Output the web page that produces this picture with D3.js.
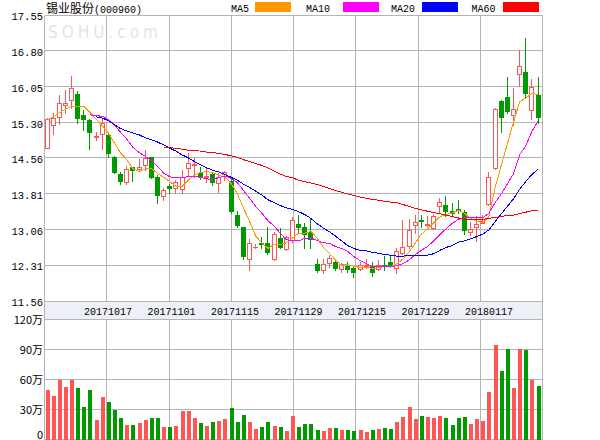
<!DOCTYPE html>
<html><head><meta charset="utf-8">
<script src="https://cdn.jsdelivr.net/npm/d3@7"></script>
<style>body{margin:0;background:#fff}svg{display:block}</style>
</head><body><svg id="c" width="600" height="440"></svg>
<script>
// ---- data ----
const title = "锡业股份";
const code = "(000960)";
const open = [14.77,15.25,15.41,15.67,15.78,15.90,15.46,15.35,14.99,15.06,
15.04,14.57,14.21,14.06,14.36,14.32,14.40,14.57,14.15,13.76,
13.97,13.92,13.90,14.34,14.40,14.25,14.15,14.21,14.04,14.21,
14.08,13.36,13.10,12.43,12.69,12.78,12.77,12.43,12.87,12.64,
12.84,13.17,13.12,13.01,12.34,12.20,12.35,12.38,12.22,12.29,
12.25,12.22,12.29,12.29,12.22,12.31,12.38,12.25,12.57,12.71,
13.15,13.26,13.15,13.08,13.55,13.57,13.45,13.48,13.43,13.00,
13.12,13.20,13.59,14.34,15.75,15.83,15.46,16.31,16.35,15.56,15.88];
const close = [15.37,15.39,15.70,15.71,16.02,15.39,15.37,15.09,15.01,15.28,
14.67,14.27,14.08,14.32,14.30,14.36,14.55,14.16,13.78,13.89,
13.93,14.05,14.16,14.44,14.42,14.15,14.18,14.05,14.16,14.26,
13.45,13.15,12.51,12.77,12.70,12.75,12.58,12.96,12.69,12.90,
13.26,13.12,12.96,12.85,12.20,12.34,12.46,12.25,12.33,12.22,
12.17,12.31,12.31,12.17,12.31,12.29,12.29,12.61,12.69,13.05,
13.22,13.23,13.18,13.34,13.64,13.45,13.41,13.46,13.05,13.07,
13.17,13.24,14.15,15.58,15.42,15.53,15.58,16.48,15.91,16.04,15.41];
const high = [15.39,15.49,15.88,15.97,16.27,15.96,15.56,15.37,15.11,15.39,
15.06,14.59,14.27,14.39,14.37,14.54,14.72,14.58,14.20,13.93,
14.01,14.09,14.30,14.67,14.55,14.37,14.36,14.25,14.24,14.29,
14.13,13.45,13.12,12.85,12.76,12.90,13.12,13.01,13.08,12.92,
13.31,13.36,13.19,13.29,12.44,12.44,12.52,12.44,12.35,12.38,
12.29,12.38,12.43,12.38,12.42,12.50,12.50,12.66,13.26,13.27,
13.36,13.36,13.33,13.38,13.71,13.76,13.61,13.68,13.47,13.22,
13.33,13.36,14.27,15.60,15.77,16.26,16.02,16.82,17.06,16.22,16.26];
const low = [14.76,15.06,15.27,15.49,15.60,15.28,15.14,14.74,14.93,14.74,
14.57,14.24,14.01,14.01,14.08,14.28,14.30,14.13,13.61,13.68,
13.82,13.82,13.82,14.18,14.16,14.12,14.06,13.99,13.85,14.09,
13.40,13.12,12.43,12.20,12.66,12.66,12.55,12.42,12.66,12.63,
12.80,13.01,12.66,12.66,12.17,12.14,12.28,12.21,12.17,12.17,
12.06,12.21,12.25,12.08,12.21,12.21,12.27,12.15,12.55,12.66,
12.99,13.12,13.14,13.06,13.43,13.33,13.33,13.41,12.96,12.94,
12.82,13.19,13.57,14.32,15.11,15.49,15.25,16.06,15.81,15.37,15.29];
const volume = [49.3,43.3,59.3,52.3,59.3,51.3,32.3,49.3,19.3,42.3,
37.3,29.3,21.3,14.3,14.3,16.3,19.3,21.3,21.3,12.3,
12.3,13.3,28.3,28.3,21.3,16.3,13.3,17.3,18.3,20.3,
31.3,17.3,24.3,17.3,10.3,12.3,17.3,13.3,12.3,8.3,
23.3,12.3,15.3,15.3,9.3,8.3,11.3,11.3,9.3,9.3,
8.3,9.3,7.3,9.3,10.3,11.3,10.3,17.3,22.3,32.3,
20.3,23.3,22.3,21.3,23.3,21.3,14.3,21.3,22.3,15.3,
20.3,18.3,47.3,94.3,68.3,90.3,51.3,90.3,89.3,59.3,53.3];
const ma5 = [15.35,15.41,15.50,15.58,15.64,15.64,15.64,15.51,15.37,15.23,
15.08,14.86,14.66,14.52,14.33,14.27,14.32,14.34,14.23,14.15,
14.06,13.96,13.96,14.09,14.20,14.25,14.27,14.25,14.19,14.16,
14.02,13.81,13.51,13.23,12.92,12.78,12.66,12.75,12.74,12.78,
12.88,12.98,12.98,13.02,12.88,12.69,12.56,12.42,12.31,12.32,
12.29,12.26,12.27,12.24,12.26,12.28,12.28,12.34,12.44,12.59,
12.77,12.96,13.07,13.20,13.32,13.37,13.40,13.46,13.40,13.29,
13.23,13.20,13.33,13.93,14.39,14.85,15.30,15.73,15.81,15.91,15.88];
const ma10 = [null,null,null,null,null,null,null,15.46,15.44,15.43,
15.36,15.25,15.09,14.95,14.78,14.67,14.59,14.50,14.38,14.24,
14.16,14.14,14.15,14.16,14.17,14.15,14.12,14.10,14.14,14.18,
14.13,14.04,13.88,13.71,13.54,13.40,13.24,13.13,12.98,12.84,
12.83,12.82,12.87,12.88,12.83,12.78,12.77,12.70,12.66,12.60,
12.49,12.41,12.34,12.28,12.29,12.28,12.27,12.30,12.34,12.42,
12.53,12.62,12.70,12.82,12.95,13.07,13.18,13.27,13.30,13.30,
13.30,13.30,13.40,13.62,13.80,14.01,14.22,14.62,14.81,15.11,15.33];
const ma20 = [null,null,null,null,null,null,null,null,15.42,15.39,
15.34,15.25,15.17,15.12,15.08,15.04,14.98,14.94,14.89,14.83,
14.76,14.70,14.62,14.56,14.48,14.41,14.35,14.30,14.26,14.21,
14.15,14.09,14.01,13.94,13.86,13.78,13.68,13.62,13.56,13.51,
13.48,13.43,13.37,13.29,13.18,13.09,13.01,12.92,12.82,12.72,
12.66,12.62,12.61,12.58,12.56,12.53,12.52,12.50,12.50,12.51,
12.51,12.51,12.52,12.55,12.62,12.68,12.72,12.79,12.82,12.86,
12.91,12.96,13.05,13.22,13.38,13.54,13.70,13.90,14.06,14.21,14.32];
const ma60 = [null,null,null,null,null,null,null,null,null,null,
null,null,null,null,null,null,null,null,null,14.78,
14.77,14.76,14.74,14.72,14.71,14.70,14.68,14.67,14.65,14.63,
14.60,14.57,14.52,14.48,14.44,14.40,14.35,14.28,14.22,14.17,
14.14,14.09,14.06,14.03,14.00,13.96,13.92,13.87,13.84,13.80,
13.77,13.74,13.71,13.69,13.67,13.65,13.63,13.62,13.58,13.54,
13.50,13.47,13.44,13.41,13.39,13.36,13.33,13.30,13.27,13.26,
13.26,13.27,13.29,13.31,13.33,13.35,13.36,13.39,13.42,13.45,13.46];
const priceTicks = ["17.55","16.80","16.05","15.30","14.56","13.81","13.06","12.31","11.56"];
const volTickValues = [120,90,60,30,0];
const volTickLabels = ["120万","90万","60万","30万","0"];
const dateLabels = ["20171017","20171101","20171115","20171129","20171215","20171229","20180117"];
const maNames = ["MA5","MA10","MA20","MA60"];

// ---- styles / layout ----
const RED = "#ff5555", GREEN = "#009900", GRID = "#b4b4b4";
const maColors = ["#ff9900","#ff00ff","#0000ff","#ff0000"];
const mono = "'Liberation Mono','DejaVu Sans Mono',monospace";
const cjk = "'Noto Sans CJK SC','Liberation Mono',sans-serif";

const svg = d3.select("#c");
const n = open.length;
const x = d3.scaleLinear().domain([0, n - 1]).range([47, 538]);
const y = d3.scaleLinear().domain([11.56, 17.55]).range([301, 15]);
const yv = d3.scaleLinear().domain([0, 120]).range([439.5, 319.5]);
const gx = d3.scaleLinear().domain([0, 8]).range([44.5, 542.5]);
const dxs = d3.scaleLinear().domain([0, dateLabels.length - 1]).range([108, 489]);
const crisp = v => Math.floor(v) + 0.5;
const L = gx(0), R = gx(8);

// watermark
svg.append("text").attr("x", 48).attr("y", 38)
  .attr("font-family", "'DejaVu Sans Condensed','Liberation Sans',sans-serif")
  .attr("font-size", 17).attr("letter-spacing", 4).attr("fill", "#e4e4e4")
  .text("SOHU.com");

// grid
const grid = svg.append("g").attr("stroke", GRID).attr("stroke-width", 1).attr("shape-rendering", "crispEdges");
priceTicks.forEach(t => {
  const yy = crisp(y(+t));
  grid.append("line").attr("x1", L).attr("x2", R).attr("y1", yy).attr("y2", yy);
});
volTickValues.forEach(v => {
  const yy = crisp(yv(v));
  grid.append("line").attr("x1", L).attr("x2", R).attr("y1", yy).attr("y2", yy);
});
d3.range(1, 8).forEach(k => {
  const xx = crisp(gx(k));
  grid.append("line").attr("x1", xx).attr("x2", xx).attr("y1", crisp(y(17.55))).attr("y2", crisp(y(11.56)));
  grid.append("line").attr("x1", xx).attr("x2", xx).attr("y1", crisp(yv(120))).attr("y2", crisp(yv(0)));
});
// date band
svg.append("rect").attr("x", crisp(L)).attr("y", crisp(y(11.56)))
  .attr("width", crisp(R) - crisp(L)).attr("height", crisp(yv(120)) - crisp(y(11.56)))
  .attr("fill", "#eef0f8").attr("stroke", GRID).attr("shape-rendering", "crispEdges");
// frame sides
[L, R].forEach(xx => grid.append("line").attr("x1", crisp(xx)).attr("x2", crisp(xx))
  .attr("y1", crisp(y(17.55))).attr("y2", crisp(yv(0))));

// axis labels
const axisG = svg.append("g").attr("font-family", mono).attr("font-size", 10.5).attr("fill", "#000");
priceTicks.forEach(t => {
  axisG.append("text").attr("x", 43).attr("y", y(+t) + 5.3).attr("text-anchor", "end").text(t);
});
volTickValues.forEach((v, k) => {
  axisG.append("text").attr("x", 43).attr("y", Math.min(yv(v) + 4, 438.5))
    .attr("text-anchor", "end").attr("font-family", cjk).attr("font-size", 11)
    .text(volTickLabels[k]);
});
dateLabels.forEach((d, k) => {
  axisG.append("text").attr("x", dxs(k)).attr("y", 315).attr("text-anchor", "middle")
    .attr("font-size", 10).text(d);
});

// candles
const cg = svg.append("g").attr("shape-rendering", "crispEdges");
d3.range(n).forEach(i => {
  const c = Math.floor(x(i));
  const up = close[i] >= open[i];
  const col = up ? RED : GREEN;
  cg.append("line").attr("x1", c + 0.5).attr("x2", c + 0.5)
    .attr("y1", Math.round(y(high[i]))).attr("y2", Math.round(y(low[i])) + 1)
    .attr("stroke", col);
  const top = Math.round(y(Math.max(open[i], close[i])));
  const bot = Math.round(y(Math.min(open[i], close[i])));
  if (up) {
    if (bot - top < 1) {
      cg.append("rect").attr("x", c - 2).attr("y", top).attr("width", 5).attr("height", 1).attr("fill", col);
    } else {
      cg.append("rect").attr("x", c - 1.5).attr("y", top + 0.5).attr("width", 4).attr("height", bot - top)
        .attr("fill", "#fff").attr("stroke", col);
    }
  } else {
    cg.append("rect").attr("x", c - 2).attr("y", top).attr("width", 5).attr("height", Math.max(1, bot - top + 1))
      .attr("fill", col);
  }
  // volume
  const vt = Math.round(yv(volume[i]));
  cg.append("rect").attr("x", c - 1.5).attr("y", vt).attr("width", 4).attr("height", Math.round(yv(0)) - vt)
    .attr("fill", up ? RED : GREEN);
});

// moving averages
const line = d3.line().defined(d => d != null).x((d, i) => x(i)).y(d => y(d));
[ma5, ma10, ma20, ma60].forEach((s, k) => {
  svg.append("path").attr("d", line(s)).attr("fill", "none")
    .attr("stroke", maColors[k]).attr("stroke-width", 1).attr("shape-rendering", "crispEdges");
});

// title
const tt = svg.append("text").attr("x", 46).attr("y", 13);
tt.append("tspan").attr("font-family", cjk).attr("font-size", 12).text(title);
tt.append("tspan").attr("font-family", mono).attr("font-size", 10).text(code);

// legend
const legTextX = [231, 306, 391, 471.5];
const legBoxX = [255, 343, 422, 503];
maNames.forEach((m, k) => {
  svg.append("text").attr("x", legTextX[k]).attr("y", 12).attr("font-family", mono)
    .attr("font-size", 10).text(m);
  svg.append("rect").attr("x", legBoxX[k]).attr("y", 2).attr("width", 36).attr("height", 10)
    .attr("fill", maColors[k]);
});
</script>
</body></html>
